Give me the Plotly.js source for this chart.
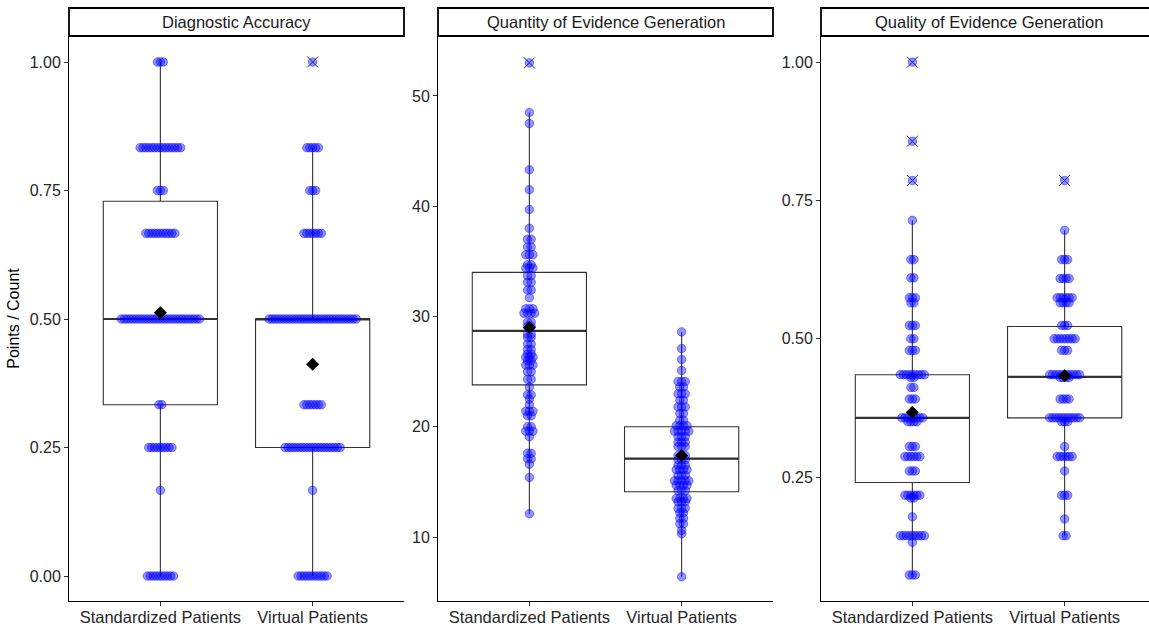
<!DOCTYPE html>
<html><head><meta charset="utf-8">
<script src="https://cdn.plot.ly/plotly-3.0.1.min.js"></script>
<style>html,body{margin:0;padding:0;background:#fff;overflow:hidden}</style>
</head><body><div id="chart" style="width:1149px;height:628px"></div>
<script>
// ---------- data ----------
const groups = ["Standardized Patients", "Virtual Patients"];
const panelTitles = ["Diagnostic Accuracy", "Quantity of Evidence Generation", "Quality of Evidence Generation"];
const yAxisTitle = "Points / Count";

// Diagnostic Accuracy: dot rows (value, number of stacked dots)
const daValues   = [0, 0.1667, 0.25, 0.3333, 0.5, 0.6667, 0.75, 0.8333, 1.0];
const daSPCounts = [10, 1, 9, 2, 28, 11, 3, 15, 3];
const daVPCounts = [11, 1, 20, 7, 31, 7, 3, 5, 1];
// box stats: [lower whisker, Q1, median, Q3, upper whisker]
const daSPBox = [0, 0.3333, 0.5, 0.729, 1.0];
const daVPBox = [0, 0.25, 0.5, 0.5, 0.8333];
const daMeans = [0.512, 0.412];

// Quantity of Evidence Generation
const qnSPValues = [12.1, 15.4, 16.6, 17.1, 17.6, 19.1, 19.6, 20.0, 21.0, 21.4, 22.0, 22.5, 22.9, 23.6, 24.3, 25.0, 25.6, 26.0, 26.3, 26.6, 27.0, 27.5, 28.1, 28.4, 29.1, 29.5, 30.3, 30.7, 31.7, 32.4, 33.1, 33.7, 34.4, 34.7, 35.6, 36.3, 37.0, 38.0, 39.7, 41.5, 43.3, 47.5, 48.5, 53.0];
const qnSPCounts = [1, 1, 1, 2, 2, 1, 3, 2, 2, 3, 1, 1, 2, 1, 2, 2, 3, 2, 3, 2, 2, 2, 2, 2, 2, 2, 4, 3, 1, 2, 2, 2, 3, 2, 3, 2, 2, 1, 1, 1, 1, 1, 1, 1];
const qnVPValues = [6.4, 10.3, 10.6, 11.2, 11.7, 12.2, 12.6, 13.2, 13.5, 14.2, 14.7, 15.1, 15.6, 16.1, 16.5, 17.0, 17.4, 18.2, 18.6, 19.1, 19.6, 20.1, 20.6, 21.2, 21.8, 22.4, 23.0, 23.6, 24.1, 25.1, 26.1, 27.1, 28.6];
const qnVPCounts = [1, 1, 1, 2, 2, 2, 3, 3, 4, 3, 4, 5, 3, 4, 3, 3, 3, 3, 3, 3, 5, 4, 2, 2, 3, 2, 3, 2, 3, 1, 1, 1, 1];
const qnSPBox = [12.1, 23.8, 28.7, 34.0, 48.5];
const qnVPBox = [6.4, 14.1, 17.1, 20.0, 28.6];
const qnMeans = [29.0, 17.4];

// Quality of Evidence Generation
const qlSPValues = [0.073, 0.132, 0.144, 0.178, 0.212, 0.217, 0.261, 0.287, 0.305, 0.350, 0.357, 0.391, 0.412, 0.430, 0.435, 0.479, 0.500, 0.524, 0.565, 0.574, 0.610, 0.643, 0.714, 0.786, 0.857, 1.0];
const qlSPCounts = [3, 1, 9, 1, 2, 6, 3, 6, 3, 4, 8, 3, 2, 2, 9, 3, 2, 3, 2, 3, 2, 2, 1, 1, 1, 1];
const qlVPValues = [0.144, 0.174, 0.217, 0.261, 0.287, 0.305, 0.350, 0.357, 0.391, 0.430, 0.435, 0.479, 0.500, 0.524, 0.565, 0.574, 0.609, 0.643, 0.696, 0.786];
const qlVPCounts = [2, 1, 3, 1, 6, 1, 3, 11, 4, 4, 11, 3, 8, 3, 4, 6, 4, 3, 1, 1];
const qlSPBox = [0.073, 0.24, 0.357, 0.435, 0.714];
const qlVPBox = [0.144, 0.357, 0.431, 0.522, 0.696];
const qlMeans = [0.367, 0.433];

// ---------- layout helpers ----------
const W = 1149, H = 628;
const panelPx = [[69, 404], [438, 773], [821, 1149]];
const plotTop = 36, plotBottom = 601, stripTop = 8;
const xRanges = [[0.4, 2.6], [0.4, 2.6], [0.4, 2.6 - 7 / 152.3]];
const yRanges = [[-0.0486, 1.0506], [4.195, 55.44], [0.0259, 1.0472]];
const yTicks = [[0, 0.25, 0.5, 0.75, 1.0], [10, 20, 30, 40, 50], [0.25, 0.5, 0.75, 1.0]];
const yFmt = [".2f", "d", ".2f"];
const dotGapPx = [2.9, 3.6, 3.0];
const pxPerUnit = 335 / 2.2;
const FONT = "Liberation Sans, Arial, sans-serif";

const panels = [
  {sp: [daValues, daSPCounts], vp: [daValues, daVPCounts], box: [daSPBox, daVPBox], means: daMeans},
  {sp: [qnSPValues, qnSPCounts], vp: [qnVPValues, qnVPCounts], box: [qnSPBox, qnVPBox], means: qnMeans},
  {sp: [qlSPValues, qlSPCounts], vp: [qlVPValues, qlVPCounts], box: [qlSPBox, qlVPBox], means: qlMeans}
];

const traces = [];
const layout = {
  width: W, height: H, margin: {l: 0, r: 0, t: 0, b: 0},
  paper_bgcolor: "#fff", plot_bgcolor: "#fff", showlegend: false,
  font: {family: FONT, color: "#000"},
  shapes: [], annotations: []
};
const blueFill = "rgba(0,0,255,0.42)", blueLine = "rgba(0,0,255,0.55)";

panels.forEach((p, k) => {
  const sfx = k === 0 ? "" : String(k + 1);
  const xa = "x" + sfx, ya = "y" + sfx;
  const gap = dotGapPx[k] / pxPerUnit;
  // boxes
  [p.box[0], p.box[1]].forEach((b, g) => {
    traces.push({type: "box", xaxis: xa, yaxis: ya, x: [g + 1],
      lowerfence: [b[0]], q1: [b[1]], median: [b[2]], q3: [b[3]], upperfence: [b[4]],
      width: 0.75, whiskerwidth: 0, boxpoints: false, hoverinfo: "skip",
      line: {color: "#333333", width: 1.1}, fillcolor: "rgba(255,255,255,0)"});
    traces.push({type: "scatter", mode: "lines", xaxis: xa, yaxis: ya,
      x: [g + 1 - 0.375, g + 1 + 0.375], y: [b[2], b[2]],
      line: {color: "#333333", width: 2.2}, hoverinfo: "skip"});
  });
  // outliers (values outside the whiskers)
  [p.sp, p.vp].forEach((d, g) => {
    const b = p.box[g];
    const out = d[0].filter(v => v > b[4] + 1e-9 || v < b[0] - 1e-9);
    if (out.length) traces.push({type: "scatter", mode: "markers", xaxis: xa, yaxis: ya,
      x: out.map(() => g + 1), y: out,
      marker: {symbol: "x-thin-open", size: 11, color: "#333333", line: {color: "#333333", width: 1}}, hoverinfo: "skip"});
  });
  // dots
  [p.sp, p.vp].forEach((d, g) => {
    const xs = [], ys = [];
    d[0].forEach((v, i) => {
      const n = d[1][i];
      for (let j = 0; j < n; j++) { xs.push(g + 1 + (j - (n - 1) / 2) * gap); ys.push(v); }
    });
    traces.push({type: "scatter", mode: "markers", xaxis: xa, yaxis: ya, x: xs, y: ys,
      marker: {size: 8.5, color: blueFill, line: {color: blueLine, width: 0.8}}, hoverinfo: "skip"});
  });
  // means
  traces.push({type: "scatter", mode: "markers", xaxis: xa, yaxis: ya, x: [1, 2], y: p.means,
    marker: {symbol: "diamond", size: 10, color: "#000"}, hoverinfo: "skip"});

  const dom = [panelPx[k][0] / W, Math.min(panelPx[k][1] / W, 1)];
  layout["xaxis" + sfx] = {domain: dom, anchor: ya, range: xRanges[k], tickvals: [1, 2], ticktext: groups,
    showline: true, linecolor: "#000", linewidth: 1, ticks: "outside", ticklen: 4, tickcolor: "#333",
    showgrid: false, zeroline: false, fixedrange: true, ticklabelstandoff: -3,
    tickfont: {size: 16.5, color: "#262626", family: FONT}};
  layout["yaxis" + sfx] = {domain: [(H - plotBottom) / H, (H - plotTop) / H], anchor: xa, range: yRanges[k],
    tickvals: yTicks[k], tickformat: yFmt[k],
    showline: true, linecolor: "#000", linewidth: 1, ticks: "outside", ticklen: 4, tickcolor: "#333",
    showgrid: false, zeroline: false, fixedrange: true,
    tickfont: {size: 16, color: "#262626", family: FONT}};
  if (k === 0) layout.yaxis.title = {text: yAxisTitle, standoff: 6, font: {size: 16, color: "#000", family: FONT}};

  // strip
  const x1 = k === 2 ? 1.02 : panelPx[k][1] / W;
  layout.shapes.push({type: "rect", xref: "paper", yref: "paper",
    x0: panelPx[k][0] / W, x1: x1, y0: (H - plotTop) / H, y1: (H - stripTop) / H,
    line: {color: "#000", width: 1.8}, fillcolor: "#fff", layer: "below"});
  layout.annotations.push({xref: "paper", yref: "paper", x: (panelPx[k][0] + (k === 2 ? 1156 : panelPx[k][1])) / 2 / W,
    y: (H - (plotTop + stripTop) / 2) / H, xanchor: "center", yanchor: "middle", showarrow: false,
    text: panelTitles[k], font: {size: 16.5, color: "#1a1a1a", family: FONT}});
});

Plotly.newPlot("chart", traces, layout, {staticPlot: true, displayModeBar: false});
</script></body></html>
